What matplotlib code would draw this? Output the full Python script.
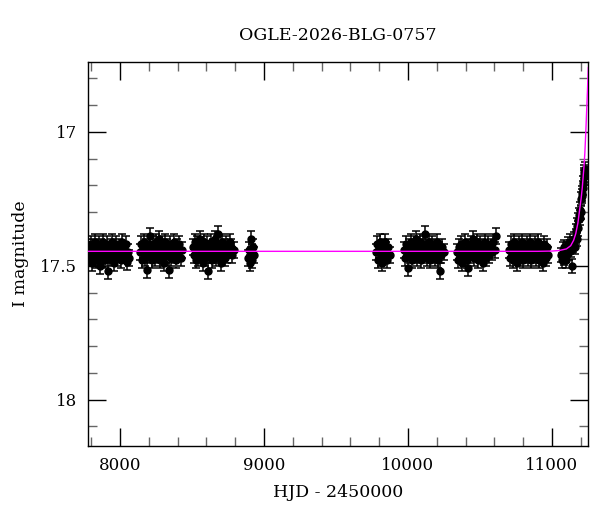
import matplotlib
matplotlib.use("Agg")
import matplotlib.pyplot as plt
from matplotlib import ticker

plt.rcParams['font.family'] = ['DejaVu Serif']

title = "OGLE-2026-BLG-0757"

# observing seasons, HJD - 2450000 and I magnitude
s1_hjd = [7786, 7792, 7798, 7803, 7809, 7815, 7820, 7826, 7832, 7838, 7845, 7851, 7858, 7864,
          7870, 7877, 7884, 7890, 7897, 7903, 7910, 7917, 7924, 7931, 7938, 7945, 7952, 7959,
          7966, 7973, 7980, 7988, 7996, 8004, 8012, 8020, 8030, 8040, 8049, 8058, 8066]
s1_mag = [17.44, 17.47, 17.42, 17.46, 17.49, 17.43, 17.45, 17.41, 17.48, 17.44, 17.46, 17.42,
          17.47, 17.50, 17.43, 17.45, 17.41, 17.46, 17.48, 17.44, 17.42, 17.52, 17.45, 17.47,
          17.43, 17.41, 17.46, 17.49, 17.44, 17.42, 17.47, 17.45, 17.43, 17.48, 17.41, 17.46,
          17.44, 17.42, 17.485, 17.45, 17.47]

s2_hjd = [8140, 8146, 8152, 8158, 8164, 8170, 8176, 8182, 8188, 8194, 8200, 8206, 8212, 8218,
          8224, 8230, 8236, 8242, 8248, 8254, 8260, 8266, 8272, 8278, 8284, 8290, 8296, 8302,
          8308, 8314, 8320, 8326, 8332, 8340, 8348, 8356, 8364, 8372, 8380, 8388, 8396, 8404,
          8412, 8422, 8432]
s2_mag = [17.45, 17.42, 17.48, 17.44, 17.46, 17.41, 17.47, 17.43, 17.515, 17.45, 17.42, 17.39,
          17.46, 17.44, 17.48, 17.42, 17.45, 17.47, 17.41, 17.44, 17.46, 17.43, 17.40, 17.48,
          17.45, 17.42, 17.47, 17.44, 17.49, 17.41, 17.46, 17.43, 17.45, 17.515, 17.42, 17.47,
          17.44, 17.41, 17.46, 17.48, 17.43, 17.45, 17.42, 17.47, 17.44]

s3_hjd = [8508, 8514, 8520, 8526, 8532, 8538, 8544, 8550, 8556, 8562, 8568, 8574, 8580, 8586,
          8592, 8598, 8604, 8611, 8618, 8625, 8632, 8639, 8646, 8653, 8660, 8667, 8674, 8681,
          8688, 8695, 8702, 8709, 8716, 8723, 8730, 8738, 8746, 8754, 8762, 8770, 8780, 8790]
s3_mag = [17.43, 17.46, 17.41, 17.48, 17.44, 17.42, 17.47, 17.45, 17.40, 17.46, 17.43, 17.49,
          17.44, 17.41, 17.47, 17.45, 17.42, 17.52, 17.46, 17.44, 17.41, 17.48, 17.43, 17.45,
          17.40, 17.47, 17.42, 17.38, 17.46, 17.44, 17.49, 17.41, 17.45, 17.43, 17.47, 17.42,
          17.46, 17.44, 17.41, 17.43, 17.46, 17.44]

s4_hjd = [8890, 8896, 8902, 8908, 8914, 8920, 8927, 8934]
s4_mag = [17.47, 17.44, 17.49, 17.40, 17.45, 17.48, 17.43, 17.46]

s5_hjd = [9779, 9785, 9791, 9797, 9803, 9810, 9817, 9824, 9831, 9838, 9846, 9854, 9862, 9872]
s5_mag = [17.45, 17.42, 17.48, 17.44, 17.41, 17.47, 17.49, 17.43, 17.46, 17.41, 17.44, 17.48,
          17.43, 17.46]

s6_hjd = [9973, 9980, 9987, 9994, 9999, 10006, 10013, 10020, 10027, 10034, 10041, 10048, 10055,
          10062, 10069, 10076, 10083, 10090, 10097, 10104, 10111, 10118, 10125, 10132, 10139,
          10146, 10153, 10160, 10167, 10174, 10181, 10188, 10195, 10202, 10209, 10216, 10222,
          10230, 10238, 10247]
s6_mag = [17.44, 17.47, 17.42, 17.45, 17.51, 17.43, 17.46, 17.41, 17.48, 17.44, 17.42, 17.46,
          17.40, 17.47, 17.43, 17.45, 17.41, 17.48, 17.44, 17.42, 17.46, 17.38, 17.43, 17.47,
          17.45, 17.41, 17.48, 17.44, 17.42, 17.46, 17.43, 17.47, 17.45, 17.41, 17.48, 17.44,
          17.52, 17.46, 17.43, 17.45]

s7_hjd = [10341, 10348, 10355, 10362, 10369, 10376, 10383, 10390, 10397, 10404, 10411, 10416,
          10423, 10430, 10437, 10444, 10451, 10458, 10465, 10472, 10479, 10486, 10493, 10500,
          10507, 10514, 10521, 10528, 10535, 10542, 10550, 10558, 10566, 10574, 10582, 10592,
          10603, 10611]
s7_mag = [17.45, 17.48, 17.43, 17.46, 17.42, 17.49, 17.44, 17.47, 17.41, 17.45, 17.48, 17.51,
          17.43, 17.46, 17.42, 17.44, 17.40, 17.47, 17.43, 17.45, 17.41, 17.48, 17.44, 17.42,
          17.46, 17.43, 17.49, 17.45, 17.41, 17.47, 17.44, 17.42, 17.46, 17.43, 17.45, 17.41,
          17.44, 17.39]

s8_hjd = [10702, 10709, 10716, 10723, 10730, 10737, 10744, 10751, 10758, 10765, 10772, 10779,
          10786, 10793, 10800, 10807, 10814, 10821, 10828, 10835, 10842, 10849, 10856, 10863,
          10870, 10877, 10884, 10891, 10898, 10905, 10912, 10919, 10926, 10933, 10940, 10947,
          10954, 10961, 10966, 10971]
s8_mag = [17.44, 17.47, 17.42, 17.45, 17.48, 17.41, 17.46, 17.43, 17.49, 17.44, 17.42, 17.47,
          17.45, 17.41, 17.48, 17.43, 17.46, 17.44, 17.42, 17.47, 17.45, 17.41, 17.48, 17.43,
          17.46, 17.44, 17.42, 17.47, 17.45, 17.41, 17.48, 17.43, 17.46, 17.44, 17.49, 17.42,
          17.45, 17.47, 17.43, 17.46]

# current season, event rising
s9_hjd = [11063, 11068, 11074, 11080, 11086, 11092, 11098, 11104, 11110, 11116, 11122, 11128,
          11134, 11140, 11146, 11152, 11158, 11164, 11168, 11172, 11176, 11180, 11184, 11188,
          11192, 11196, 11200, 11204, 11207, 11210, 11213, 11216, 11219, 11222, 11225, 11228]
s9_mag = [17.46, 17.48, 17.44, 17.47, 17.43, 17.46, 17.48, 17.44, 17.42, 17.45, 17.43, 17.41,
          17.44, 17.50, 17.42, 17.40, 17.43, 17.39, 17.37, 17.40, 17.35, 17.36, 17.33, 17.31,
          17.32, 17.29, 17.30, 17.25, 17.23, 17.24, 17.21, 17.19, 17.17, 17.15, 17.16, 17.14]

season_err = [0.03, 0.03, 0.03, 0.03, 0.03, 0.03, 0.03, 0.03, 0.027]

# fitted model curve
model_hjd = [7700, 10900, 11000, 11050, 11100, 11130, 11150, 11165, 11180, 11192, 11202, 11210,
             11216, 11222, 11228, 11234, 11240, 11246, 11252]
model_mag = [17.446, 17.446, 17.445, 17.443, 17.437, 17.425, 17.405, 17.38, 17.34, 17.29, 17.25,
             17.21, 17.17, 17.13, 17.08, 17.01, 16.93, 16.85, 16.76]

seasons = [(s1_hjd, s1_mag), (s2_hjd, s2_mag), (s3_hjd, s3_mag), (s4_hjd, s4_mag),
           (s5_hjd, s5_mag), (s6_hjd, s6_mag), (s7_hjd, s7_mag), (s8_hjd, s8_mag),
           (s9_hjd, s9_mag)]

fig = plt.figure(figsize=(6, 5.12), dpi=100)
ax = fig.add_axes([88 / 600, 1 - 446 / 512, 500 / 600, 384 / 512])

for (t, m), e in zip(seasons, season_err):
    ax.errorbar(t, m, yerr=e, fmt='o', color='black', ms=5, capsize=3,
                elinewidth=1.1, capthick=1.1, zorder=3)

ax.plot(model_hjd, model_mag, color='#ff00ff', lw=1, zorder=5)

ax.set_xlim(7778, 11250)
ax.set_ylim(18.173, 16.739)

ax.xaxis.set_major_locator(ticker.MultipleLocator(1000))
ax.xaxis.set_minor_locator(ticker.MultipleLocator(200))
ax.yaxis.set_major_locator(ticker.MultipleLocator(0.5))
ax.yaxis.set_minor_locator(ticker.MultipleLocator(0.1))
ax.yaxis.set_major_formatter(ticker.FormatStrFormatter('%g'))

ax.tick_params(which='both', direction='in', top=True, right=True, labelsize=12)
ax.tick_params(which='major', length=13, width=1, pad=8)
ax.tick_params(which='minor', length=6.5, width=1, color='0.4')
for s in ax.spines.values():
    s.set_linewidth(1)

ax.set_title(title, fontsize=12.5, pad=16)
ax.set_xlabel("HJD - 2450000", fontsize=12.5, labelpad=7)
ax.set_ylabel("I magnitude", fontsize=12.5, labelpad=8)

fig.savefig("out.png", dpi=100)
